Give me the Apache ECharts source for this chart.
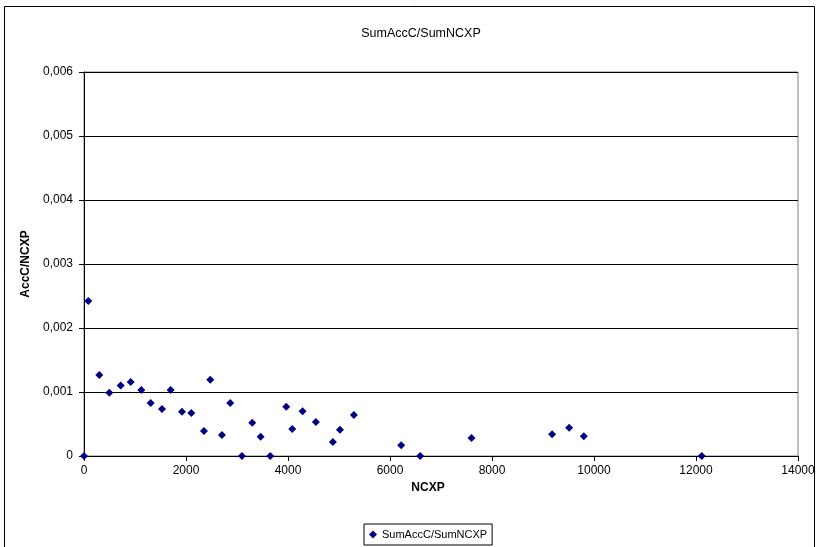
<!DOCTYPE html>
<html><head><meta charset="utf-8">
<script src="https://cdn.jsdelivr.net/npm/echarts@6/dist/echarts.min.js"></script>
<style>html,body{margin:0;padding:0;background:#fff;}#c{width:819px;height:547px;}</style>
</head><body><div id="c"></div>
<script>
const seriesName = 'SumAccC/SumNCXP';
const ncxp = [0, 85, 300, 496, 719, 915, 1124, 1307, 1529, 1699, 1921, 2104, 2352, 2476, 2705, 2868, 3097, 3299, 3463, 3652, 3966, 4083, 4286, 4547, 4880, 5018, 5292, 6219, 6592, 7598, 9179, 9512, 9800, 12113];
const ratio = [0, 0.00242, 0.001266, 0.00099, 0.0011, 0.001156, 0.00103, 0.00083, 0.000734, 0.00103, 0.00069, 0.00067, 0.00039, 0.00119, 0.00033, 0.00083, 0, 0.00052, 0.0003, 0, 0.00077, 0.00042, 0.0007, 0.00053, 0.00022, 0.00041, 0.00064, 0.000167, 0, 0.00028, 0.00034, 0.00044, 0.00031, 0];
const data = ncxp.map((x, i) => [x, ratio[i]]);
const font = 'Liberation Sans, Arial, sans-serif';
const chart = echarts.init(document.getElementById('c'));
chart.setOption({
  backgroundColor: '#fff',
  animation: false,
  title: { text: 'SumAccC/SumNCXP', left: 416, top: 22, textAlign: 'center',
    textStyle: { fontFamily: font, fontSize: 12.5, fontWeight: 'normal', color: '#000' } },
  graphic: [{ type: 'rect', shape: { x: 4.5, y: 6.5, width: 810, height: 560 },
    style: { fill: 'none', stroke: '#000', lineWidth: 1 }, silent: true }],
  grid: { left: 84, top: 72, right: 21, bottom: 91, show: true, borderColor: '#808080', borderWidth: 1 },
  legend: { bottom: 2, left: 364, data: [seriesName], borderColor: '#000', borderWidth: 1,
    padding: [5, 5, 5, 5], itemWidth: 8, itemHeight: 8, itemGap: 4,
    textStyle: { fontFamily: font, fontSize: 11, color: '#000' } },
  xAxis: { type: 'value', min: 0, max: 14000, interval: 2000, name: 'NCXP', nameLocation: 'middle', nameGap: 25,
    nameTextStyle: { fontFamily: font, fontSize: 12, fontWeight: 'bold', color: '#000', padding: [0, 26, 0, 0] },
    axisLine: { lineStyle: { color: '#000' } }, axisTick: { show: true, length: 5, lineStyle: { color: '#000' } },
    axisLabel: { fontFamily: font, fontSize: 12, color: '#000', margin: 9, formatter: v => String(v) },
    splitLine: { show: false } },
  yAxis: { type: 'value', min: 0, max: 0.006, interval: 0.001, name: 'AccC/NCXP', nameLocation: 'middle', nameGap: 48,
    nameTextStyle: { fontFamily: font, fontSize: 12, fontWeight: 'bold', color: '#000' },
    axisLine: { show: true, lineStyle: { color: '#000' } }, axisTick: { show: true, length: 5, lineStyle: { color: '#000' } },
    axisLabel: { fontFamily: font, fontSize: 12, color: '#000', margin: 11,
      formatter: v => v === 0 ? '0' : v.toFixed(3).replace('.', ',') },
    splitLine: { show: true, lineStyle: { color: '#000', width: 1 } } },
  series: [{ name: seriesName, type: 'scatter', data: data, symbol: 'diamond', symbolSize: 8,
    itemStyle: { color: '#000080', opacity: 1 } }]
});
</script></body></html>
